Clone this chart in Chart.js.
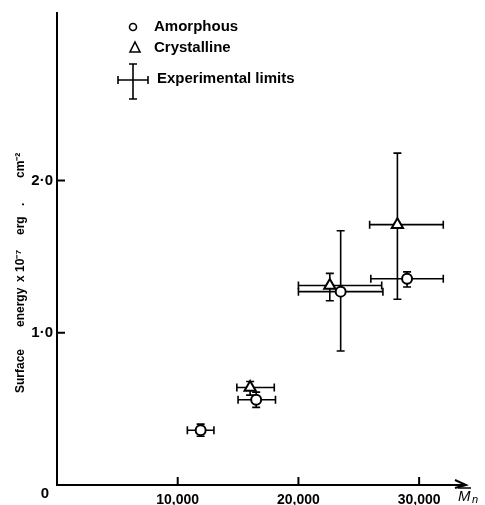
<!DOCTYPE html>
<html>
<head>
<meta charset="utf-8">
<script src="https://cdn.jsdelivr.net/npm/chart.js@4"></script>
<style>
  html, body { margin: 0; padding: 0; background: #fff; }
</style>
</head>
<body>
<canvas id="chart" width="485" height="505"></canvas>
<script>
// values
const amorphousX = [11900, 16500, 23500, 29000];
const amorphousY = [0.36, 0.56, 1.27, 1.355];
const amorphousXLow = [10800, 15000, 20000, 26000];
const amorphousXHigh = [13000, 18100, 27000, 32000];
const amorphousYLow = [0.32, 0.51, 0.88, 1.30];
const amorphousYHigh = [0.40, 0.61, 1.67, 1.40];

const crystallineX = [16000, 22600, 28200];
const crystallineY = [0.64, 1.31, 1.71];
const crystallineXLow = [14900, 20000, 25900];
const crystallineXHigh = [18000, 26900, 32000];
const crystallineYLow = [0.59, 1.21, 1.22];
const crystallineYHigh = [0.68, 1.39, 2.18];

const xTicks = [10000, 20000, 30000];
const xTickLabels = ['10,000', '20,000', '30,000'];
const yTicks = [1, 2];
const yTickLabels = ['1·0', '2·0'];

const FONT = 'Liberation Sans, Arial, sans-serif';

// y title is spaced out in the original, so draw it word by word
const yTitleWords = [
    ['Surface', 393],
    ['energy', 327],
    ['x', 282],
    ['10\u207B\u2077', 272],
    ['erg', 235],
    ['.', 206],
    ['cm\u207B\u00B2', 178]
];

function toPoints(xs, ys) {
    return xs.map((x, i) => ({ x: x, y: ys[i] }));
}

const errorBars = {
    id: 'errorBars',
    beforeDatasetsDraw(chart) {
        const ctx = chart.ctx;
        const xs = chart.scales.x;
        const ys = chart.scales.y;
        const cap = 4;
        ctx.save();
        ctx.strokeStyle = '#000';
        ctx.lineWidth = 1.6;
        const sets = [
            [amorphousX, amorphousY, amorphousXLow, amorphousXHigh, amorphousYLow, amorphousYHigh],
            [crystallineX, crystallineY, crystallineXLow, crystallineXHigh, crystallineYLow, crystallineYHigh]
        ];
        sets.forEach(([px, py, xl, xh, yl, yh]) => {
            px.forEach((v, i) => {
                const cx = xs.getPixelForValue(v);
                const cy = ys.getPixelForValue(py[i]);
                const x1 = xs.getPixelForValue(xl[i]);
                const x2 = xs.getPixelForValue(xh[i]);
                const y1 = ys.getPixelForValue(yl[i]);
                const y2 = ys.getPixelForValue(yh[i]);
                ctx.beginPath();
                ctx.moveTo(x1, cy); ctx.lineTo(x2, cy);
                ctx.moveTo(x1, cy - cap); ctx.lineTo(x1, cy + cap);
                ctx.moveTo(x2, cy - cap); ctx.lineTo(x2, cy + cap);
                ctx.moveTo(cx, y1); ctx.lineTo(cx, y2);
                ctx.moveTo(cx - cap, y1); ctx.lineTo(cx + cap, y1);
                ctx.moveTo(cx - cap, y2); ctx.lineTo(cx + cap, y2);
                ctx.stroke();
            });
        });
        ctx.restore();
    }
};

const decorations = {
    id: 'decorations',
    afterDraw(chart) {
        const ctx = chart.ctx;
        const xs = chart.scales.x;
        const ys = chart.scales.y;
        const area = chart.chartArea;
        ctx.save();
        ctx.strokeStyle = '#000';
        ctx.fillStyle = '#000';
        ctx.lineWidth = 2;

        // inward tick marks
        ctx.beginPath();
        xTicks.forEach(v => {
            const x = xs.getPixelForValue(v);
            ctx.moveTo(x, area.bottom); ctx.lineTo(x, area.bottom - 8);
        });
        yTicks.forEach(v => {
            const y = ys.getPixelForValue(v);
            ctx.moveTo(area.left, y); ctx.lineTo(area.left + 8, y);
        });
        ctx.stroke();

        // arrow head on x axis
        ctx.beginPath();
        ctx.moveTo(area.right - 10, area.bottom - 5);
        ctx.lineTo(area.right + 1, area.bottom);
        ctx.lineTo(area.right - 10, area.bottom + 3);
        ctx.stroke();

        // origin label
        ctx.font = 'bold 15px ' + FONT;
        ctx.textAlign = 'center';
        ctx.textBaseline = 'middle';
        ctx.fillText('0', 45, 494);

        // x axis name: Mn with bar
        ctx.textAlign = 'left';
        ctx.font = 'italic 15px ' + FONT;
        ctx.fillText('M', 458, 497);
        ctx.font = 'italic 11px ' + FONT;
        ctx.fillText('n', 472, 500);
        ctx.lineWidth = 1.5;
        ctx.beginPath();
        ctx.moveTo(458, 488); ctx.lineTo(471, 488);
        ctx.stroke();

        // y axis title
        ctx.save();
        ctx.translate(21, 0);
        ctx.rotate(-Math.PI / 2);
        ctx.textAlign = 'left';
        ctx.textBaseline = 'middle';
        ctx.font = 'bold 12px ' + FONT;
        yTitleWords.forEach(([w, y]) => ctx.fillText(w, -y, 0));
        ctx.restore();

        // legend
        ctx.lineWidth = 1.6;
        ctx.beginPath();
        ctx.arc(133, 27, 3.5, 0, Math.PI * 2);
        ctx.stroke();
        ctx.beginPath();
        ctx.moveTo(135, 42); ctx.lineTo(140, 52); ctx.lineTo(130, 52); ctx.closePath();
        ctx.stroke();
        ctx.beginPath();
        ctx.moveTo(118, 80); ctx.lineTo(148, 80);
        ctx.moveTo(118, 76); ctx.lineTo(118, 84);
        ctx.moveTo(148, 76); ctx.lineTo(148, 84);
        ctx.moveTo(133, 64); ctx.lineTo(133, 99);
        ctx.moveTo(129, 64); ctx.lineTo(137, 64);
        ctx.moveTo(129, 99); ctx.lineTo(137, 99);
        ctx.stroke();
        ctx.font = 'bold 15px ' + FONT;
        ctx.textBaseline = 'middle';
        ctx.fillText('Amorphous', 154, 27);
        ctx.fillText('Crystalline', 154, 48);
        ctx.fillText('Experimental limits', 157, 79);
        ctx.restore();
    }
};

new Chart(document.getElementById('chart'), {
    type: 'scatter',
    data: {
        datasets: [
            {
                label: 'Amorphous',
                data: toPoints(amorphousX, amorphousY),
                pointStyle: 'circle',
                pointRadius: 5,
                pointBackgroundColor: '#fff',
                pointBorderColor: '#000',
                pointBorderWidth: 2
            },
            {
                label: 'Crystalline',
                data: toPoints(crystallineX, crystallineY),
                pointStyle: 'triangle',
                pointRadius: 6.5,
                pointBackgroundColor: '#fff',
                pointBorderColor: '#000',
                pointBorderWidth: 2
            }
        ]
    },
    options: {
        responsive: false,
        animation: false,
        layout: { padding: { top: 13, right: 20, left: 0, bottom: 0 } },
        plugins: {
            legend: { display: false },
            tooltip: { enabled: false }
        },
        scales: {
            x: {
                type: 'linear',
                min: 0,
                max: 33800,
                afterFit(scale) { scale.height = 20; },
                afterBuildTicks(scale) { scale.ticks = xTicks.map(v => ({ value: v })); },
                grid: { display: false, drawTicks: false },
                border: { display: true, color: '#000', width: 2 },
                ticks: {
                    color: '#000',
                    padding: 7,
                    maxRotation: 0,
                    font: { family: FONT, size: 14, weight: 'bold' },
                    callback: v => xTickLabels[xTicks.indexOf(v)]
                }
            },
            y: {
                type: 'linear',
                min: 0,
                max: 3.1,
                afterFit(scale) { scale.width = 57; },
                afterBuildTicks(scale) { scale.ticks = yTicks.map(v => ({ value: v })); },
                grid: { display: false, drawTicks: false },
                border: { display: true, color: '#000', width: 2 },
                ticks: {
                    color: '#000',
                    padding: 4,
                    font: { family: FONT, size: 15, weight: 'bold' },
                    callback: v => yTickLabels[yTicks.indexOf(v)]
                }
            }
        }
    },
    plugins: [errorBars, decorations]
});
</script>
</body>
</html>
